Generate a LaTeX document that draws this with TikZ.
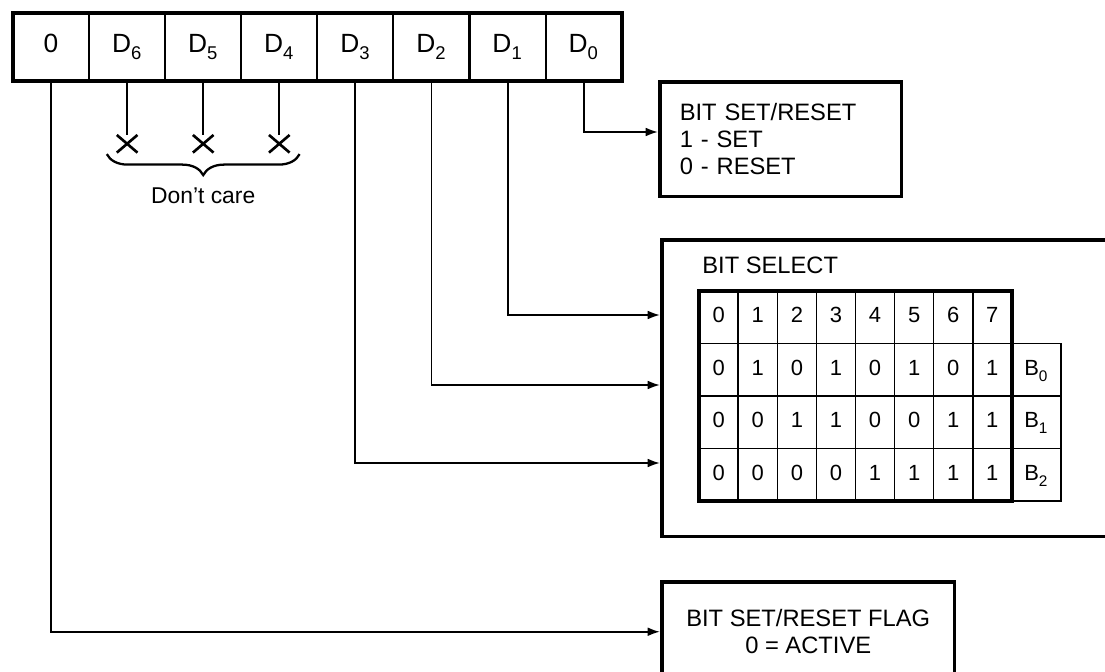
\documentclass[tikz,border=0pt]{standalone}
\usepackage{fontspec}
\setmainfont{Liberation Sans}
\usepackage{tikz}
\usetikzlibrary{
  arrows.meta,
  positioning,
  fit,
  matrix,
  shapes.misc,
  decorations.pathreplacing
}
% lowered subscript, as in the printed figure
\newcommand{\lowsub}[1]{\textsubscript{\raisebox{-0.35ex}{#1}}}
\tikzset{
  % Register cell: one bit of the control word
  regcell/.style={
    rectangle, draw, line width=1.2pt, outer sep=0pt, inner sep=0pt,
    minimum width=1.522cm, minimum height=1.36cm,
    text height=0.72em, text depth=0.1em,
    font=\fontsize{15}{18}\selectfont
  },
  % Thick outline round a group of cells
  grpframe/.style={
    rectangle, draw, line width=#1, inner sep=0pt
  },
  % Output box
  outbox/.style={
    rectangle, draw, line width=2pt, inner sep=0pt,
    font=\fontsize{13.5}{15.5}\selectfont
  },
  % Truth-table cell
  tcell/.style={
    rectangle, draw, line width=0.9pt, outer sep=0pt, inner sep=0pt,
    minimum width=0.782cm, minimum height=1.05cm, anchor=center,
    text height=0.72em, text depth=0.1em,
    font=\fontsize{12.5}{14}\selectfont
  },
  % Don't-care mark
  xmark/.style={
    cross out, draw, line width=1.5pt, inner sep=0pt,
    minimum width=0.36cm, minimum height=0.3cm
  },
  % Arrow
  arr/.style={
    -{Latex[length=7pt,width=5pt]}, line width=1.1pt
  },
  % Plain line
  wire/.style={line width=1.1pt},
  % Brace under the don't-care bits
  brc/.style={
    decorate, decoration={brace, mirror, amplitude=0.42cm}, line width=1.3pt
  }
}

\begin{document}
\begin{tikzpicture}[x=0.02cm, y=-0.02cm]
  \useasboundingbox (0,0) rectangle (1105,672);
  \clip (0,0) rectangle (1105,672);

  % control word
  \node[regcell, anchor=north west] (r7) at (13,13) {0};
  \node[regcell, right=0pt of r7] (r6) {D\lowsub{6}};
  \node[regcell, right=0pt of r6] (r5) {D\lowsub{5}};
  \node[regcell, right=0pt of r5] (r4) {D\lowsub{4}};
  \node[regcell, right=0pt of r4] (r3) {D\lowsub{3}};
  \node[regcell, right=0pt of r3] (r2) {D\lowsub{2}};
  \node[regcell, right=0pt of r2] (r1) {D\lowsub{1}};
  \node[regcell, right=0pt of r1] (r0) {D\lowsub{0}};
  \node[grpframe=2.2pt, fit=(r7)(r0)] (reg) {};

  % don't care bits
  \node[xmark, below=1.08cm of r6] (x6) {};
  \node[xmark, below=1.08cm of r5] (x5) {};
  \node[xmark, below=1.08cm of r4] (x4) {};
  \draw[wire] (r6.south) -- (x6.north);
  \draw[wire] (r5.south) -- (x5.north);
  \draw[wire] (r4.south) -- (x4.north);
  \draw[brc] ([xshift=-0.2cm,yshift=-0.03cm]x6.south west) -- ([xshift=0.2cm,yshift=-0.03cm]x4.south east)
    node[midway, yshift=-0.84cm, font=\fontsize{13}{15}\selectfont] (dc) {Don't care};

  % output boxes
  \node[outbox, anchor=north west, minimum width=4.84cm, minimum height=2.3cm,
        text width=4.04cm, align=left] (setbox) at (658,80) {BIT SET/RESET\\1 - SET\\0 - RESET};
  \node[outbox, anchor=north west, minimum width=9.6cm, minimum height=5.94cm] (selbox) at (660,238) {};
  \node[anchor=west, inner sep=0pt, font=\fontsize{13.5}{15.5}\selectfont] (sellbl) at (702,265) {BIT SELECT};
  \matrix[matrix of nodes, anchor=north west, inner sep=0pt, nodes={tcell},
          column sep=-0.9pt, row sep=-0.9pt,
          column 9/.style={nodes={minimum width=0.98cm}}] (tbl) at (698,290) {
    0 & 1 & 2 & 3 & 4 & 5 & 6 & 7 & \\
    0 & 1 & 0 & 1 & 0 & 1 & 0 & 1 & B\lowsub{0} \\
    0 & 0 & 1 & 1 & 0 & 0 & 1 & 1 & B\lowsub{1} \\
    0 & 0 & 0 & 0 & 1 & 1 & 1 & 1 & B\lowsub{2} \\
  };
  \node[grpframe=2pt, fit=(tbl-1-1)(tbl-4-8)] (tblframe) {};
  \node[outbox, anchor=north west, minimum width=5.86cm, minimum height=2cm,
        align=center] (flagbox) at (660,580) {BIT SET/RESET FLAG\\0 = ACTIVE};

  % connectors
  \draw[arr] (r0.south) |- (setbox.west |- 0,132);
  \draw[arr] (r1.south) |- (selbox.west |- 0,315);
  \draw[arr] (r2.south) |- (selbox.west |- 0,385);
  \draw[arr] (r3.south) |- (selbox.west |- 0,463);
  \draw[arr] (r7.south) |- (flagbox.west);
\end{tikzpicture}
\end{document}
